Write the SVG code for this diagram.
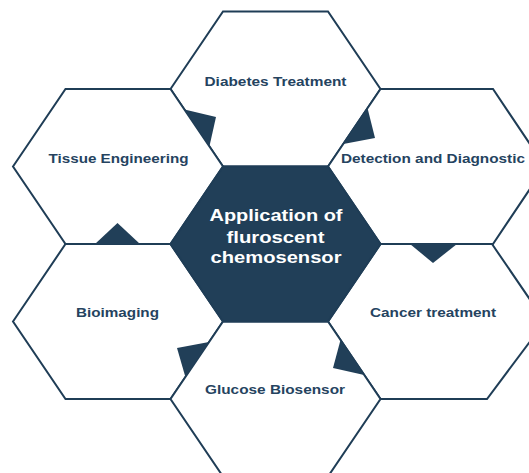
<svg xmlns="http://www.w3.org/2000/svg" width="529" height="473" viewBox="0 0 529 473">
<style>
.hex{fill:#ffffff;stroke:#1f3d56;stroke-width:2;stroke-linejoin:miter}
.core{fill:#213f58;stroke:#1f3d56;stroke-width:2}
.lbl{font-family:"Liberation Sans",Arial,sans-serif;font-weight:bold;font-size:13.5px;fill:#25435f;text-anchor:middle}
.ctr{font-family:"Liberation Sans",Arial,sans-serif;font-weight:bold;font-size:17px;fill:#ffffff;text-anchor:middle}
.tri{fill:#213f58}
</style>
<rect width="529" height="473" fill="#ffffff"/>
<g id="node-diabetes">
<polygon class="hex" points="170.5,89 223,11.5 328,11.5 380.5,89 328,166.5 223,166.5"/>
<text class="lbl" x="275.5" y="85.5" textLength="142" lengthAdjust="spacingAndGlyphs">Diabetes Treatment</text>
</g>
<g id="node-tissue">
<polygon class="hex" points="13,166.5 65.5,89 170.5,89 223,166.5 170.5,244 65.5,244"/>
<text class="lbl" x="118.5" y="163" textLength="140" lengthAdjust="spacingAndGlyphs">Tissue Engineering</text>
</g>
<g id="node-detection">
<polygon class="hex" points="328,166.5 380.5,89 493,89 545,166.5 493,244 380.5,244"/>
<text class="lbl" x="433" y="163" textLength="184" lengthAdjust="spacingAndGlyphs">Detection and Diagnostic</text>
</g>
<g id="node-bioimaging">
<polygon class="hex" points="13,321.5 65.5,244 170.5,244 223,321.5 170.5,399 65.5,399"/>
<text class="lbl" x="117.5" y="317" textLength="83" lengthAdjust="spacingAndGlyphs">Bioimaging</text>
</g>
<g id="node-cancer">
<polygon class="hex" points="328,321.5 380.5,244 492,244 545,321.5 487,399 380.5,399"/>
<text class="lbl" x="433" y="317" textLength="126" lengthAdjust="spacingAndGlyphs">Cancer treatment</text>
</g>
<g id="node-glucose">
<polygon class="hex" points="170.5,399 223,321.5 328,321.5 380.5,399 328,476.5 223,476.5"/>
<text class="lbl" x="275" y="394" textLength="140" lengthAdjust="spacingAndGlyphs">Glucose Biosensor</text>
</g>
<g id="node-center">
<polygon class="core" points="170.5,244 223,166.5 328,166.5 380.5,244 328,321.5 223,321.5"/>
<text class="ctr" x="276" y="221" textLength="133" lengthAdjust="spacingAndGlyphs">Application of</text>
<text class="ctr" x="275.5" y="242.5" textLength="98" lengthAdjust="spacingAndGlyphs">fluroscent</text>
<text class="ctr" x="276" y="263" textLength="131" lengthAdjust="spacingAndGlyphs">chemosensor</text>
</g>
<g id="connectors">
<polygon class="tri" points="184.5,109.5 216,117 209.5,146"/>
<polygon class="tri" points="367.5,108 375,138 343.3,144"/>
<polygon class="tri" points="95,244 117.5,223 140,244"/>
<polygon class="tri" points="410,244 457,244 433,263"/>
<polygon class="tri" points="209,342 177,348 185.4,377"/>
<polygon class="tri" points="340.5,340 364.2,375 333,368"/>
</g>
</svg>
